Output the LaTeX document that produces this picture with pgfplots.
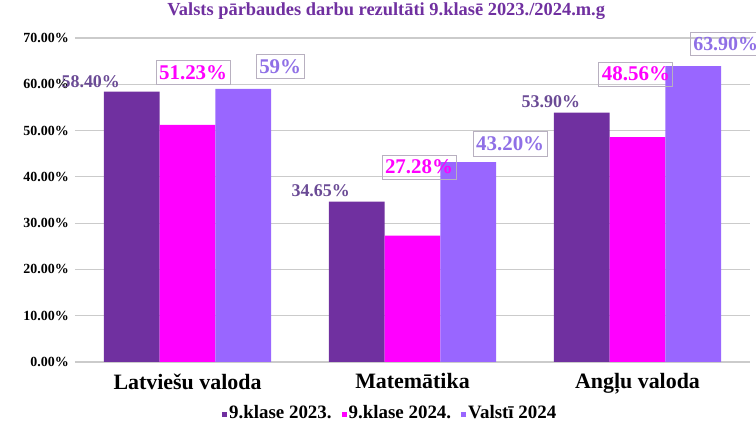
\documentclass[border=0pt]{standalone}
\usepackage{pgfplots}
\pgfplotsset{compat=1.18}
\usepackage{fontspec}
\setmainfont{Liberation Serif}
\definecolor{cDark}{HTML}{7030A0}
\definecolor{cPink}{HTML}{FF00FF}
\definecolor{cLight}{HTML}{9966FF}
\definecolor{tDark}{HTML}{6A4A95}
\definecolor{tLight}{HTML}{8F6FE6}
\definecolor{boxgray}{HTML}{B8B0C0}
\definecolor{gridgray}{HTML}{CBCBCB}
\begin{document}
\begin{tikzpicture}[
  boxlbl/.style={draw=boxgray, line width=0.9pt, inner xsep=3bp, inner ysep=5bp,
    font=\fontsize{21}{24}\selectfont\bfseries},
  plainlbl/.style={inner sep=1pt, font=\fontsize{18}{20}\selectfont\bfseries}]
\begin{axis}[
  scale only axis, width=675bp, height=324bp,
  ymin=0, ymax=70, ytick={0,10,...,70},
  xmin=-0.5, xmax=2.5, xtick=data,
  xticklabels={Latviešu valoda, Matemātika, Angļu valoda},
  x tick label style={font=\fontsize{22}{24}\selectfont\bfseries, yshift=-4bp},
  y tick label style={font=\fontsize{14}{16}\selectfont\bfseries, inner sep=0pt, xshift=-6bp},
  yticklabel={\pgfmathprintnumber[fixed, fixed zerofill, precision=2]{\tick}\%},
  /pgf/number format/assume math mode=true,
  axis line style={draw=none}, tick style={draw=none},
  ymajorgrids, grid style={gridgray, line width=1.1pt},
  ybar=0pt, bar width=55.7bp,
  legend style={at={(0.467,-0.155)}, anchor=center, draw=none, legend columns=3,
    font=\fontsize{19}{21}\selectfont\bfseries, inner sep=0pt,
    /tikz/every even column/.append style={column sep=8bp}},
  legend image code/.code={\fill[#1] (-2bp,-4.5bp) rectangle (3bp,0.5bp);},
  title={\fontsize{18.5}{20}\selectfont\bfseries\color{cDark}Valsts pārbaudes darbu rezultāti 9.klasē 2023./2024.m.g},
  title style={at={(0.461,1)}, anchor=center, yshift=21bp},
  clip=false]
\addplot[fill=cDark, draw=none] coordinates {(0,58.40) (1,34.65) (2,53.90)};
\addplot[fill=cPink, draw=none] coordinates {(0,51.23) (1,27.28) (2,48.56)};
\addplot[fill=cLight, draw=none] coordinates {(0,59.00) (1,43.20) (2,63.90)};
\legend{9.klase 2023., 9.klase 2024., Valstī 2024}
\node[plainlbl, text=tDark] at (axis cs:-0.43,60.5) {58.40\%};
\node[boxlbl, text=cPink] at (axis cs:0.025,62.6) {51.23\%};
\node[boxlbl, text=tLight] at (axis cs:0.412,63.8) {59\%};
\node[plainlbl, text=tDark] at (axis cs:0.592,37.1) {34.65\%};
\node[boxlbl, text=cPink] at (axis cs:1.029,42.1) {27.28\%};
\node[boxlbl, text=tLight] at (axis cs:1.434,47.1) {43.20\%};
\node[plainlbl, text=tDark] at (axis cs:1.615,56.2) {53.90\%};
\node[boxlbl, text=cPink] at (axis cs:1.993,62.2) {48.56\%};
\node[boxlbl, text=tLight, font=\fontsize{20}{22}\selectfont\bfseries] at (axis cs:2.392,68.7) {63.90\%};
\coordinate (pbl) at (rel axis cs:0,0);
\coordinate (ptr) at (rel axis cs:1,1);
\end{axis}
\pgfresetboundingbox
\path[use as bounding box] ([shift={(-75bp,-62bp)}]pbl) rectangle ([shift={(6bp,38bp)}]ptr);
\end{tikzpicture}
\end{document}
